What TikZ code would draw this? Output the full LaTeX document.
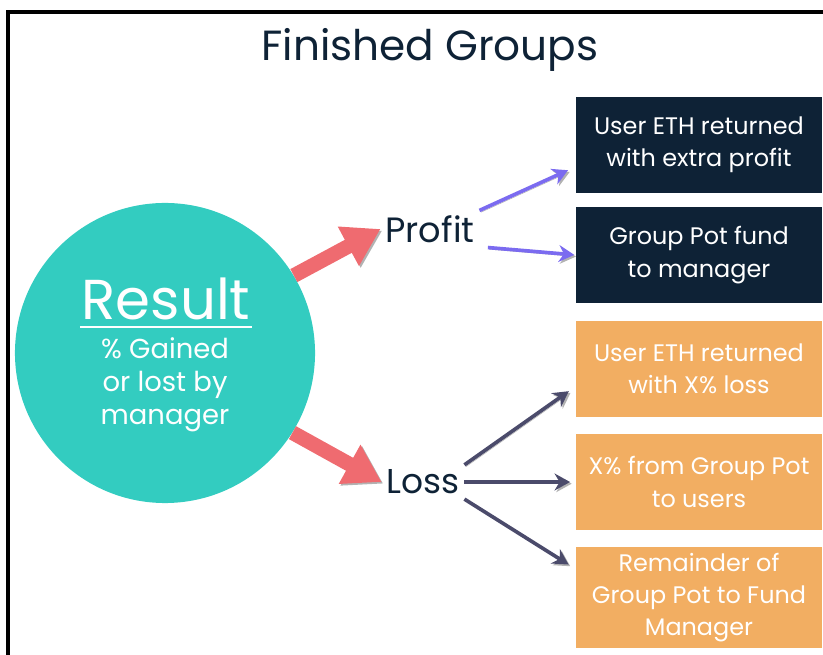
\documentclass[tikz,border=0pt]{standalone}
\usepackage{fontspec}
\setmainfont{Poppins}
\usetikzlibrary{arrows.meta}

\definecolor{navy}{HTML}{0E2236}
\definecolor{tealc}{HTML}{33CCC0}
\definecolor{orangec}{HTML}{F2AE62}
\definecolor{redc}{HTML}{EF6B70}
\definecolor{purplec}{HTML}{7B6BF0}
\definecolor{slatec}{HTML}{4B4B6B}

\begin{document}
\begin{tikzpicture}[x=0.025cm,y=-0.025cm,
    box/.style={minimum width=6.15cm,minimum height=2.4cm,inner sep=0pt,
      text=white,align=center,font=\fontsize{17}{23}\selectfont},
    shade arrow/.style={preaction={draw=black!30,
      transform canvas={shift={(1.2pt,-1.2pt)}}}},
    bigarrow/.style={shade arrow,redc,line width=10.5pt,
      -{Triangle[length=26pt,width=30pt]}},
    thinarrow/.style={shade arrow,line width=2.6pt,
      -{Stealth[length=11pt,width=12pt]}}]
    \useasboundingbox (0,0) rectangle (823,655);
    % frame
    \draw[line width=2.2pt] (8,655) -- (8,12) -- (823,12);
    \node[navy,font=\fontsize{30}{36}\selectfont] (title) at (430,50) {Finished Groups};

    % result circle
    \node[circle,fill=tealc,minimum size=7.5cm] (result) at (165,353) {};
    \node[white,font=\fontsize{40}{48}\selectfont,anchor=base,inner sep=1pt] (res) at (166,320) {Result};
    \draw[white,line width=2pt] ([yshift=-5pt]res.base west) -- ([yshift=-5pt]res.base east);
    \node[white,align=center,anchor=north,font=\fontsize{19.5}{23.5}\selectfont] (gain) at (165,333)
      {\% Gained\\or lost by\\manager};

    \node[navy,font=\fontsize{25}{28}\selectfont] (profit) at (430,229) {Profit};
    \node[navy,font=\fontsize{24.5}{28}\selectfont] (loss) at (423,482) {Loss};

    % outcome boxes
    \node[box,fill=navy] (p1) at (699,145) {User ETH returned\\with extra profit};
    \node[box,fill=navy] (p2) at (699,255) {Group Pot fund\\to manager};
    \node[box,fill=orangec] (l1) at (699,369) {User ETH returned\\with X\% loss};
    \node[box,fill=orangec] (l2) at (699,482) {X\% from Group Pot\\to users};
    \node[box,fill=orangec,minimum height=2.525cm] (l3) at (699,597.5)
      {Remainder of\\Group Pot to Fund\\Manager};

    \draw[bigarrow] (result.31) -- (profit.west);
    \draw[bigarrow] (result.-32) -- (loss.west);

    \draw[thinarrow,purplec,shorten >=6pt] (profit.north east) -- (p1.190);
    \draw[thinarrow,purplec,shorten >=1pt] ([xshift=6pt]profit.south east) -- (p2.west);

    \draw[thinarrow,slatec,shorten >=6pt] (loss.north east) -- (l1.188);
    \draw[thinarrow,slatec,shorten >=4pt] (loss.east) -- (l2.west);
    \draw[thinarrow,slatec,shorten >=6pt] (loss.south east) -- (l3.167);
\end{tikzpicture}
\end{document}
